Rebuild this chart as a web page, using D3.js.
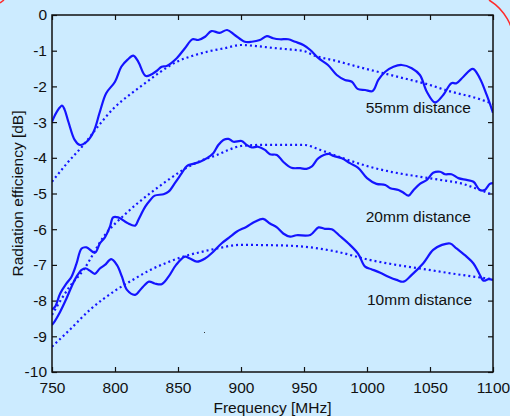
<!DOCTYPE html>
<html>
<head>
<meta charset="utf-8">
<script src="https://cdn.jsdelivr.net/npm/d3@7"></script>
<style>
html,body{margin:0;padding:0;background:rgb(204,235,255);}
svg{display:block;}
text{font-family:"Liberation Sans",Arial,sans-serif;fill:#111;}
</style>
</head>
<body>
<script>
// ---- data ----
const xTicks = [750, 800, 850, 900, 950, 1000, 1050, 1100];
const yTicks = [0, -1, -2, -3, -4, -5, -6, -7, -8, -9, -10];
const seriesLabels = ["55mm distance", "20mm distance", "10mm distance"];

const freq55 = [750,754,758,760,763,768,772,777.5,783,788,793,800,805,810,814.5,818.5,824.5,833,837,841,849,855.5,861.5,866,871.5,876.5,883,889,895,903,908.5,915,920.5,925.5,931,937.5,943,949.5,955,961.5,969,976,982.5,988,992.5,998.5,1004.5,1009,1014.5,1021,1027.5,1035.5,1042,1047.5,1054,1060.5,1067,1071,1076.5,1084,1089.5,1095,1100];
const eff55 = [-2.99,-2.70,-2.54,-2.65,-2.99,-3.50,-3.64,-3.55,-3.27,-2.71,-2.19,-1.87,-1.45,-1.25,-1.14,-1.31,-1.71,-1.57,-1.45,-1.43,-1.21,-0.93,-0.68,-0.70,-0.61,-0.45,-0.50,-0.42,-0.56,-0.75,-0.75,-0.70,-0.59,-0.65,-0.68,-0.68,-0.75,-0.84,-0.98,-1.21,-1.40,-1.68,-1.82,-1.87,-2.07,-2.10,-2.13,-1.82,-1.59,-1.45,-1.40,-1.49,-1.68,-2.15,-2.45,-2.24,-1.91,-1.91,-1.73,-1.51,-1.77,-2.24,-2.74];

const freq20 = [750,752.5,756.5,761.5,765.5,769.5,773.5,777.5,784,788,792,796,798.5,802.5,809.5,816,818.5,824,828,831.5,838.5,842.5,847.5,853,857,862,867.5,873,878,882,886,890,894,900.5,904.5,908.5,913.5,919,923,928.5,933.5,940,947,952,956,961.5,969.5,973.5,980,986.5,993,1000,1007.5,1014.5,1018.5,1025,1029,1033,1037,1042,1047.5,1052.5,1058,1062,1067,1072.5,1079,1084.5,1089.5,1093.5,1097.5,1100];
const eff20 = [-8.25,-8.17,-7.80,-7.52,-7.33,-6.96,-6.54,-6.51,-6.66,-6.40,-6.23,-5.93,-5.67,-5.67,-5.82,-5.90,-5.74,-5.37,-5.18,-5.06,-5.02,-4.95,-4.71,-4.43,-4.23,-4.17,-4.11,-4.01,-3.87,-3.64,-3.50,-3.47,-3.55,-3.53,-3.64,-3.71,-3.69,-3.78,-3.90,-3.92,-4.11,-4.28,-4.29,-4.31,-4.25,-4.01,-3.89,-3.95,-4.01,-4.15,-4.28,-4.57,-4.73,-4.76,-4.85,-4.90,-4.98,-5.06,-4.90,-4.73,-4.62,-4.42,-4.39,-4.46,-4.46,-4.57,-4.62,-4.67,-4.90,-4.90,-4.73,-4.71];

const freq10 = [750,751,756.5,761.5,765.5,769.5,773.5,777,780,784,788,792,797,801.5,805.5,809.5,816,821,827,831.5,837,842.5,848.5,855.5,859.5,865,871.5,878,884.5,891.5,896.5,904.5,911,917.5,923,928.5,933.5,939,944,955,961.5,966.5,972,978.5,986.5,993,998.5,1003.5,1010.5,1017,1023.5,1029,1035.5,1044.5,1052.5,1059.5,1066,1071,1079,1084.5,1089,1092.5,1096.5,1100];
const eff10 = [-8.68,-8.64,-8.31,-7.94,-7.61,-7.33,-7.14,-7.10,-7.16,-7.25,-7.10,-7.00,-6.84,-7.00,-7.33,-7.70,-7.84,-7.66,-7.47,-7.52,-7.54,-7.33,-7.00,-6.77,-6.82,-6.91,-6.82,-6.63,-6.40,-6.21,-6.07,-5.93,-5.79,-5.71,-5.84,-5.95,-6.12,-6.21,-6.17,-6.16,-5.95,-5.99,-6.00,-6.19,-6.44,-6.69,-7.05,-7.12,-7.22,-7.33,-7.42,-7.47,-7.28,-6.96,-6.58,-6.44,-6.40,-6.54,-6.77,-6.96,-7.24,-7.44,-7.40,-7.42];

const freqFit55 = [750,762,775,787,799,811,822,835,849,861,873,887,900,912,925,940,950,957,976,995,1013,1030,1045,1067,1087,1100];
const fit55 = [-4.67,-4.15,-3.64,-3.10,-2.61,-2.25,-1.96,-1.62,-1.31,-1.15,-1.03,-0.93,-0.84,-0.87,-0.92,-0.97,-1.01,-1.12,-1.29,-1.47,-1.63,-1.78,-1.91,-2.15,-2.33,-2.49];

const freqFit20 = [750,764,775,791,809,828,841,854,867,881,890,900,915,935,950,963,980,1002,1020,1042,1060,1074,1088,1100];
const fit20 = [-8.40,-7.61,-7.14,-6.21,-5.55,-4.99,-4.65,-4.34,-4.10,-3.92,-3.78,-3.67,-3.64,-3.64,-3.64,-3.78,-4.00,-4.25,-4.40,-4.53,-4.63,-4.71,-4.88,-5.04];

const freqFit10 = [750,764,780,801,815,828,841,854,868,881,899,927,950,976,1002,1020,1042,1071,1100];
const fit10 = [-9.29,-8.82,-8.26,-7.70,-7.40,-7.14,-6.94,-6.77,-6.64,-6.54,-6.44,-6.45,-6.49,-6.63,-6.86,-6.98,-7.10,-7.26,-7.40];

// label anchor positions (data units: MHz, dB)
const labelFreq = [999, 999, 1000];
const labelDb = [-2.74, -5.79, -8.12];

// ---- drawing ----
const W = 510, H = 416;
const m = {left: 52, top: 15, right: 493, bottom: 372};
const svg = d3.select("body").append("svg").attr("width", W).attr("height", H);

svg.append("rect").attr("width", W).attr("height", H).attr("fill", "rgb(204,235,255)");

// red decorative border pieces
svg.append("path").attr("d", "M489,0 A52.6,52.6 0 0 1 514.2,44.3")
  .attr("fill", "none").attr("stroke", "#ff2a2a").attr("stroke-width", 1.5);
svg.append("path").attr("d", "M0,3 L4,0")
  .attr("fill", "none").attr("stroke", "#ff2a2a").attr("stroke-width", 1.5);

const x = d3.scaleLinear().domain([750, 1100]).range([m.left, m.right]);
const y = d3.scaleLinear().domain([-10, 0]).range([m.bottom, m.top]);

const FS = "15.5px";

const gL = svg.append("g").attr("transform", `translate(${m.left},0)`)
  .call(d3.axisLeft(y).tickValues(yTicks).tickFormat(d => d === 0 ? "0" : "-" + Math.abs(d)).tickSizeInner(-5).tickSizeOuter(0).tickPadding(5));
const gB = svg.append("g").attr("transform", `translate(0,${m.bottom})`)
  .call(d3.axisBottom(x).tickValues(xTicks).tickFormat(d3.format("d")).tickSizeInner(-5).tickSizeOuter(0).tickPadding(9.5));
const gT = svg.append("g").attr("transform", `translate(0,${m.top})`)
  .call(d3.axisTop(x).tickValues(xTicks).tickFormat("").tickSizeInner(-5).tickSizeOuter(0));
const gR = svg.append("g").attr("transform", `translate(${m.right},0)`)
  .call(d3.axisRight(y).tickValues(yTicks).tickFormat("").tickSizeInner(-5).tickSizeOuter(0));

[gL, gB, gT, gR].forEach(g => {
  g.select(".domain").remove();
  g.selectAll(".tick line").attr("stroke", "#111").attr("stroke-width", 1.2);
  g.selectAll(".tick text").attr("font-size", FS).attr("fill", "#111")
    .attr("font-family", '"Liberation Sans", Arial, sans-serif');
});

const plot = svg.append("g");
svg.append("clipPath").attr("id", "clp").append("rect")
  .attr("x", m.left).attr("y", m.top - 2).attr("width", m.right - m.left).attr("height", m.bottom - m.top + 2);

const line = d3.line().x(d => x(d[0])).y(d => y(d[1])).curve(d3.curveCatmullRom.alpha(0.5));
const fitLine = d3.line().x(d => x(d[0])).y(d => y(d[1])).curve(d3.curveMonotoneX);

const meas = [[freq55, eff55], [freq20, eff20], [freq10, eff10]];
const fits = [[freqFit55, fit55], [freqFit20, fit20], [freqFit10, fit10]];

fits.forEach(([f, v]) => {
  plot.append("path").datum(f.map((d, i) => [d, v[i]]))
    .attr("d", fitLine).attr("fill", "none").attr("stroke", "#1414ff")
    .attr("stroke-width", 2.2).attr("stroke-dasharray", "2,3").attr("clip-path", "url(#clp)");
});
meas.forEach(([f, v]) => {
  plot.append("path").datum(f.map((d, i) => [d, v[i]]))
    .attr("d", line).attr("fill", "none").attr("stroke", "#1414ff")
    .attr("stroke-width", 2.2).attr("stroke-linejoin", "round").attr("clip-path", "url(#clp)");
});

// box
svg.append("rect").attr("x", m.left).attr("y", m.top).attr("width", m.right - m.left).attr("height", m.bottom - m.top)
  .attr("fill", "none").attr("stroke", "#111").attr("stroke-width", 1.5);

// series labels
seriesLabels.forEach((t, i) => {
  svg.append("text").attr("x", x(labelFreq[i])).attr("y", y(labelDb[i]))
    .attr("font-size", FS).text(t);
});

// tiny artifact dot
svg.append("rect").attr("x", 204).attr("y", 332).attr("width", 1).attr("height", 1).attr("fill", "#333");

// axis titles
svg.append("text").attr("x", (m.left + m.right) / 2).attr("y", 412.5).attr("text-anchor", "middle")
  .attr("font-size", FS).text("Frequency [MHz]");
svg.append("text").attr("transform", `translate(23,${(m.top + m.bottom) / 2}) rotate(-90)`)
  .attr("text-anchor", "middle").attr("font-size", FS).text("Radiation efficiency [dB]");
</script>
</body>
</html>
